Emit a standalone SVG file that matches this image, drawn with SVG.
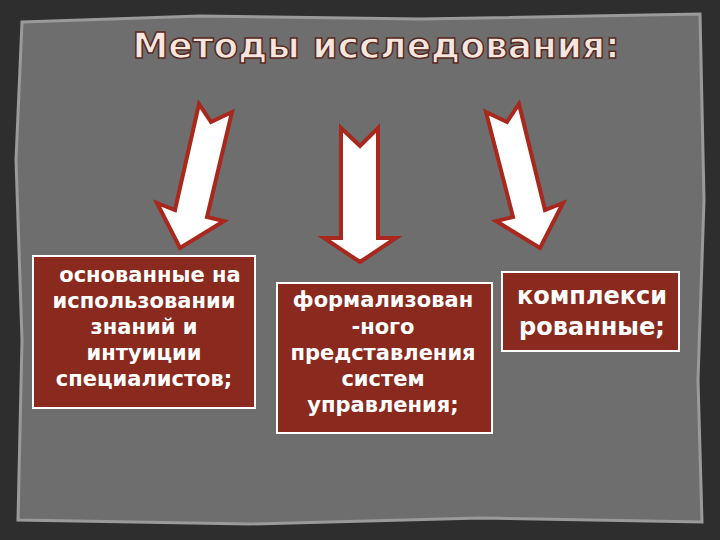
<svg xmlns="http://www.w3.org/2000/svg" width="720" height="540" viewBox="0 0 720 540">
<style>
.arrow{fill:#fff;stroke:#a8281e;stroke-width:4;stroke-linejoin:miter}
.box{fill:#8a2a1f;stroke:#fff;stroke-width:2}
.t{font-family:"DejaVu Sans",sans-serif;font-weight:bold;fill:#fff;text-anchor:middle}
</style>
<rect width="720" height="540" fill="#2e2e2e"/>
<path d="M22,22 L200,16 L420,19 L700,14 L704,200 L698,380 L702,522 L480,518 L250,524 L18,520 L22,340 L16,160 Z" fill="#6e6e6e" stroke="#9a9a9a" stroke-width="3"/>
<g id="title"><text x="376" y="58" font-family="'DejaVu Sans',sans-serif" font-weight="bold" font-size="36" fill="#f5e6df" stroke="#5a2a22" stroke-width="1.5" text-anchor="middle">Методы исследования:</text></g>
<g id="connectors">
<polygon class="arrow" points="199,104 211,122 232,112 207,217 224,221 180,248 157,203 175,210"/>
<polygon class="arrow" points="341,128 360,146 378,128 378,238 396,238 360,262 324,238 341,238"/>
<polygon class="arrow" points="486,112 507,122 519,104 545,210 563,203 540,248 496,221 513,217"/>
</g>
<g id="n1"><rect class="box" x="33" y="256" width="222" height="152"/>
<text class="t" font-size="21"><tspan x="150" y="282">основанные на</tspan><tspan x="144" y="308">использовании</tspan><tspan x="144" y="334">знаний и</tspan><tspan x="144" y="360">интуиции</tspan><tspan x="144" y="386">специалистов;</tspan></text></g>
<g id="n2"><rect class="box" x="277" y="283" width="215" height="150"/>
<text class="t" font-size="21"><tspan x="383" y="307">формализован</tspan><tspan x="383" y="334">-ного</tspan><tspan x="383" y="360">представления</tspan><tspan x="383" y="386">систем</tspan><tspan x="383" y="412">управления;</tspan></text></g>
<g id="n3"><rect class="box" x="502" y="272" width="177" height="79"/>
<text class="t" font-size="24"><tspan x="592" y="304">комплекси</tspan><tspan x="592" y="335">рованные;</tspan></text></g>
</svg>
